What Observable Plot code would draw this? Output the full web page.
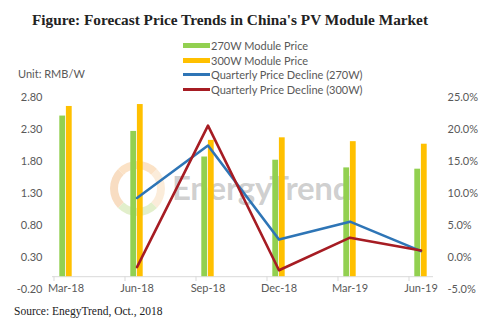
<!DOCTYPE html>
<html>
<head>
<meta charset="utf-8">
<script src="https://cdn.jsdelivr.net/npm/d3@7"></script>
<script src="https://cdn.jsdelivr.net/npm/@observablehq/plot@0.6"></script>
<style>
  html, body { margin: 0; padding: 0; background: #fff; }
  #wrap { position: relative; width: 490px; height: 335px; overflow: hidden; background: #fff; }
  #wrap > * { position: absolute; }
  .title { left: 0; width: 460px; top: 11px; text-align: center; font: bold 15.3px "Liberation Serif", serif; color: #222; white-space: nowrap; }
  .unit { left: 18px; top: 67px; font: 11px Lato, sans-serif; color: #595959; }
  .legend { left: 183px; top: 38px; font: 11px Lato, sans-serif; color: #595959; }
  .legend div { height: 14.7px; display: flex; align-items: center; }
  .legend span.sw { display: inline-block; width: 27px; margin-right: 1px; }
  .source { left: 14px; top: 305px; font: 11.5px "Liberation Serif", serif; color: #222; }
  .wm { left: 172px; top: 167px; font: bold 33px Lato, sans-serif; color: rgba(140,140,140,0.42); letter-spacing: -0.3px; }
  .ring { left: 110px; top: 161px; width: 39px; height: 39px; border-radius: 50%; border: 8px solid; border-color: rgba(245,190,130,0.45) rgba(245,200,150,0.35) rgba(190,220,140,0.45) rgba(240,180,120,0.45); }
  #chart { left: 0; top: 0; }
</style>
</head>
<body>
<div id="wrap">
  <div class="ring"></div>
  <div class="wm">EnergyTrend</div>
  <div id="chart"></div>
  <div class="title">Figure: Forecast Price Trends in China's PV Module Market</div>
  <div class="unit">Unit: RMB/W</div>
  <div class="legend" id="legend"></div>
  <div class="source">Source: EnegyTrend, Oct., 2018</div>
</div>
<script>
const categories = ["Mar-18", "Jun-18", "Sep-18", "Dec-18", "Mar-19", "Jun-19"];
const price270 = [2.51, 2.27, 1.87, 1.82, 1.70, 1.68];
const price300 = [2.66, 2.69, 2.13, 2.17, 2.11, 2.07];
const decline270 = [null, 9.3, 17.5, 2.8, 5.6, 1.0];
const decline300 = [null, -1.5, 20.6, -2.0, 3.1, 1.1];
const leftTicks = [-0.2, 0.3, 0.8, 1.3, 1.8, 2.3, 2.8];
const rightTicks = [-5, 0, 5, 10, 15, 20, 25];
const seriesNames = ["270W Module Price", "300W Module Price", "Quarterly Price Decline (270W)", "Quarterly Price Decline (300W)"];
const colors = ["#92D050", "#FFC000", "#2E75B6", "#A61C23"];

// secondary axis (%) mapped onto primary axis: 0% ↔ 0.30, 5% ↔ 0.80
const toLeft = p => 0.3 + p / 10;
const toPct = v => (v - 0.3) * 10;

const rows = categories.map((c, i) => ({cat: c, p270: price270[i], p300: price300[i], d270: decline270[i], d300: decline300[i]}));
const lineRows = rows.filter(d => d.d270 != null);

const half = 35.9, bw = 6.6;
const plot = Plot.plot({
  width: 490,
  height: 335,
  marginTop: 97,
  marginBottom: 46,
  marginLeft: 52,
  marginRight: 57,
  style: {background: "transparent", fontFamily: "Lato, sans-serif", fontSize: "11px", color: "#595959"},
  x: {domain: categories, range: [64 - half, 423 + half], padding: 0},
  y: {domain: [-0.2, 2.8]},
  marks: [
    Plot.ruleY([0], {stroke: "#d9d9d9", strokeWidth: 1}),
    Plot.ruleX(categories, {x: d => d, y1: 0, y2: -0.075, dx: -12, stroke: "#d9d9d9"}),
    Plot.barY(rows, {x: "cat", y: "p270", fill: colors[0], insetLeft: half - bw, insetRight: half}),
    Plot.barY(rows, {x: "cat", y: "p300", fill: colors[1], insetLeft: half, insetRight: half - bw}),
    Plot.line(lineRows, {x: "cat", y: d => toLeft(d.d270), stroke: colors[2], strokeWidth: 2.6}),
    Plot.line(lineRows, {x: "cat", y: d => toLeft(d.d300), stroke: colors[3], strokeWidth: 2.6}),
    Plot.axisY(leftTicks, {anchor: "left", tickSize: 0, tickPadding: 10, tickFormat: d => d.toFixed(2), label: null, fill: "#595959"}),
    Plot.axisY(rightTicks.map(toLeft), {anchor: "right", tickSize: 0, tickPadding: 14, tickFormat: d => toPct(d).toFixed(1) + "%", label: null, fill: "#595959"}),
    Plot.axisX({anchor: "bottom", tickSize: 0, tickPadding: -5, label: null, fill: "#595959"})
  ]
});
document.getElementById("chart").appendChild(plot);

const legend = document.getElementById("legend");
seriesNames.forEach((name, i) => {
  const row = document.createElement("div");
  const sw = document.createElement("span");
  sw.className = "sw";
  sw.style.height = i < 2 ? "5px" : "3px";
  sw.style.background = colors[i];
  row.appendChild(sw);
  row.appendChild(document.createTextNode(name));
  legend.appendChild(row);
});
</script>
</body>
</html>
